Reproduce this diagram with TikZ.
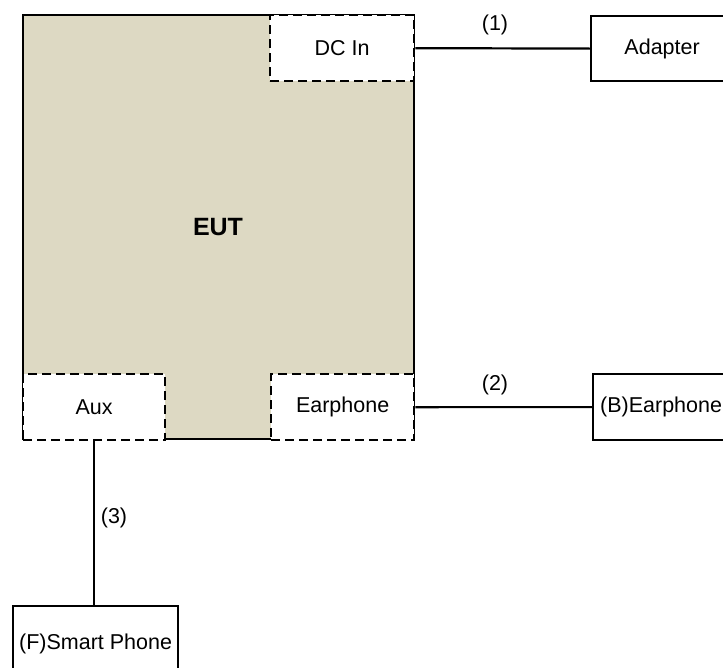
\documentclass[tikz,border=0pt]{standalone}
\usepackage{fontspec}
\setmainfont{Liberation Sans}
\definecolor{euttan}{RGB}{221,217,195}
\begin{document}
\begin{tikzpicture}[x=1pt,y=-1pt,
  every node/.style={font=\fontsize{21.5}{26}\selectfont},
  port/.style={draw, dashed, dash pattern=on 9pt off 5pt, line width=2.3pt, fill=white, inner sep=0pt},
  dev/.style={draw, line width=2.2pt, fill=white, inner sep=0pt},
  wire/.style={line width=2.2pt},
  lbl/.style={inner sep=0pt}]
\useasboundingbox (0,0) rectangle (723,667);
% EUT
\node[draw, line width=2pt, fill=euttan, minimum width=391pt, minimum height=424pt, inner sep=0pt,
  anchor=north west] (eut) at (22,14) {};
\node[font=\fontsize{25}{30}\selectfont\bfseries] (euttext) at (218,227) {EUT};
% ports
\node[port, minimum width=144pt, minimum height=66pt, anchor=north west] (dcin) at (269,14) {DC In};
\node[port, minimum width=142pt, minimum height=66pt, anchor=north west] (aux) at (22,373) {Aux};
\node[port, minimum width=143pt, minimum height=66pt, anchor=north west] (earph) at (270,373) {Earphone};
% devices
\node[dev, minimum width=142pt, minimum height=65pt, anchor=north west] (adapter) at (590,15) {Adapter};
\node[dev, minimum width=136pt, minimum height=66pt, anchor=north west] (bear) at (592,373) {(B)Earphone};
\node[dev, minimum width=165pt, minimum height=76pt, anchor=north west] (phone) at (12,605) {(F)Smart Phone};
% connectors
\draw[wire] (dcin.east) -- (adapter.west);
\draw[wire] (earph.east) -- (bear.west);
\draw[wire] (aux.south) -- (aux.south |- phone.north);
% labels
\node[lbl] (l1) at (495,25) {(1)};
\node[lbl] (l2) at (495,385) {(2)};
\node[lbl] (l3) at (114,518) {(3)};
\end{tikzpicture}
\end{document}
